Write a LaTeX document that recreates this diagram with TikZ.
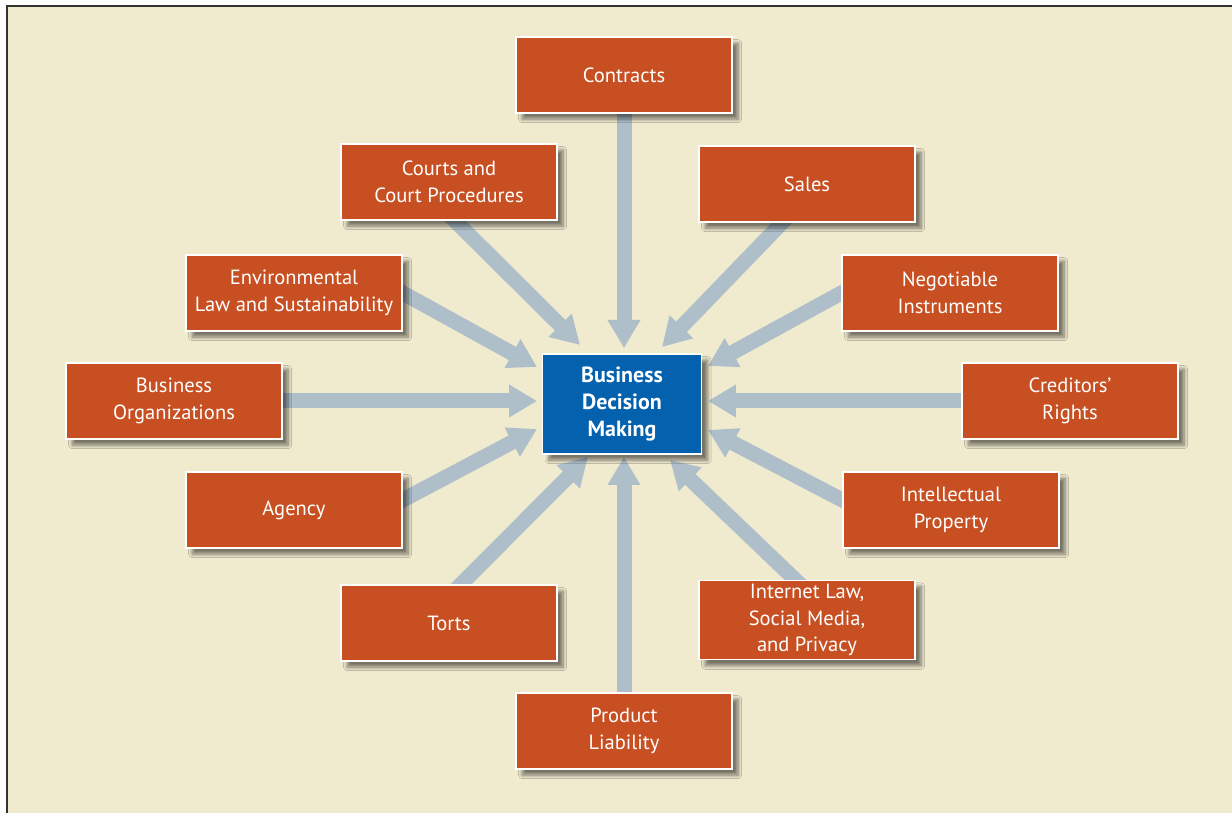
\documentclass[tikz,border=0pt]{standalone}
\usepackage{fontspec}
\setmainfont{PT Sans}
\usetikzlibrary{arrows.meta, calc, backgrounds, shadows.blur}

\definecolor{bgbeige}{HTML}{F0EACF}
\definecolor{topicred}{HTML}{C84F22}
\definecolor{coreblue}{HTML}{0461AE}
\definecolor{arrowgray}{HTML}{AFBFC9}

\begin{document}
\begin{tikzpicture}[x=0.02cm, y=-0.02cm,
    topic/.style={draw=white, line width=0.9pt, fill=topicred, text=white, align=center,
      minimum width=4.32cm, minimum height=1.52cm, inner sep=2pt,
      font=\fontsize{11.7}{15.3}\selectfont,
      blur shadow={shadow xshift=3.5pt, shadow yshift=-3.5pt, shadow blur steps=8, shadow opacity=50}},
    core/.style={topic, fill=coreblue, minimum width=3.18cm, minimum height=2cm,
      font=\fontsize{12.5}{15.2}\selectfont\bfseries},
    arr/.style={draw=arrowgray, line width=0.3cm, shorten <=-10pt,
      -{Triangle[width=0.62cm, length=0.56cm]}}]
    \useasboundingbox (0,0) rectangle (1232,813);

    \node[core] (bdm) at (622,404) {Business\\Decision\\Making};

    \node[topic] (contracts) at (624,75) {Contracts};
    \node[topic] (courts) at (449,182) {Courts and\\Court Procedures};
    \node[topic] (sales) at (807,184) {Sales};
    \node[topic] (env) at (294,293) {Environmental\\Law and Sustainability};
    \node[topic] (negot) at (950,293) {Negotiable\\Instruments};
    \node[topic] (busorg) at (174,401) {Business\\Organizations};
    \node[topic] (creditors) at (1070,401) {Creditors'\\Rights};
    \node[topic] (agency) at (294,510) {Agency};
    \node[topic] (intel) at (951,510) {Intellectual\\Property};
    \node[topic] (torts) at (449,623) {Torts};
    \node[topic] (internet) at (807,620) {Internet Law,\\Social Media,\\and Privacy};
    \node[topic] (product) at (624,731) {Product\\Liability};

    % arrow tips around the center box
    \coordinate (tContracts) at (624,348);
    \coordinate (tCourts) at (580,345);
    \coordinate (tSales) at (662,347);
    \coordinate (tEnv) at (537,367);
    \coordinate (tNegot) at (708,366);
    \coordinate (tBusorg) at (537,401);
    \coordinate (tCreditors) at (708,401);
    \coordinate (tAgency) at (537,429);
    \coordinate (tIntel) at (708,430);
    \coordinate (tTorts) at (588,457);
    \coordinate (tInternet) at (670,460);
    \coordinate (tProduct) at (624,457);

    \begin{scope}[on background layer]
        \fill[white] (0,0) rectangle (1232,813);
        \fill[bgbeige] (7,6) rectangle (1232,813);
        \draw[line width=1.1pt, black!80] (7,813) -- (7,6) -- (1232,6);
        \draw[arr] (contracts.south) -- (tContracts);
        \draw[arr] ($(courts.south)+(6,0)$) -- (tCourts);
        \draw[arr] ($(sales.south)+(-25,0)$) -- (tSales);
        \draw[arr] (env.east) -- (tEnv);
        \draw[arr] (negot.west) -- (tNegot);
        \draw[arr] (busorg.east) -- (tBusorg);
        \draw[arr] (creditors.west) -- (tCreditors);
        \draw[arr] ($(agency.east)+(0,-10)$) -- (tAgency);
        \draw[arr] ($(intel.west)+(0,-10)$) -- (tIntel);
        \draw[arr] ($(torts.north)+(12,0)$) -- (tTorts);
        \draw[arr] ($(internet.north)+(-12,0)$) -- (tInternet);
        \draw[arr] (product.north) -- (tProduct);
    \end{scope}
\end{tikzpicture}
\end{document}
